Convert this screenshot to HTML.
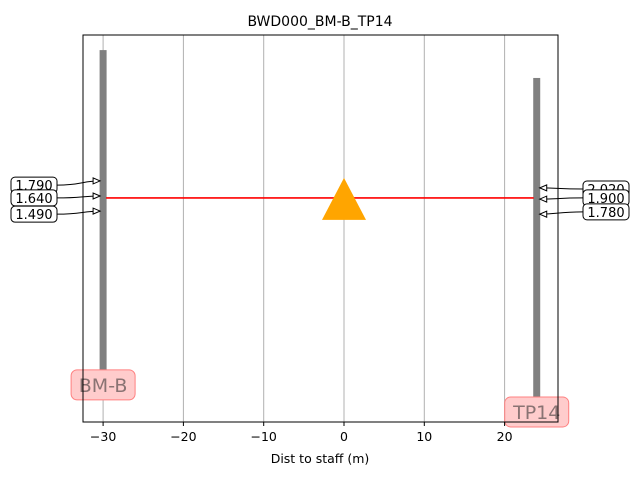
<!DOCTYPE html>
<html><head><meta charset="utf-8"><style>
body{margin:0;background:#fff;}
svg text{font-family:"DejaVu Sans","Liberation Sans",sans-serif;}
</style></head><body>
<svg id="chart" width="640" height="480" xmlns="http://www.w3.org/2000/svg">
<text x="320" y="26" text-anchor="middle" font-size="14">BWD000_BM-B_TP14</text>
<g id="grid"></g>
<g id="marks"></g>
<rect x="83" y="35" width="475" height="387" fill="none" stroke="#000" stroke-width="1"/>
<g id="xticks"></g>
<text x="320" y="463" text-anchor="middle" font-size="12.5">Dist to staff (m)</text>
</svg>
<script>
const xTicks=[-30,-20,-10,0,10,20];
const staffNames=["BM-B","TP14"];
const staffDist=[-30,24];
const staffTop=[96.1,88.9];
const staffBottom=[9.6,2.6];
const lineLevel=57.9;
const instrumentDist=0;
const leftReadings=["1.790","1.640","1.490"];
const rightReadings=["2.020","1.900","1.780"];
const leftReadLevel=[62.3,58.4,54.5];
const rightReadLevel=[60.5,57.6,53.7];
const leftBoxLevel=[61.2,57.9,53.7];
const rightBoxLevel=[60.2,57.9,54.3];

const NS="http://www.w3.org/2000/svg";
const xs=v=>344+v*8.03;
const ys=v=>422-v*3.87;
function mk(tag,attrs,parent){const e=document.createElementNS(NS,tag);for(const k in attrs)e.setAttribute(k,attrs[k]);parent.appendChild(e);return e;}
const grid=document.getElementById('grid'),marks=document.getElementById('marks'),xt=document.getElementById('xticks');
xTicks.forEach(t=>{
  const g=mk('line',{x1:xs(t),x2:xs(t),y1:35,y2:422,stroke:'#b0b0b0','stroke-width':1},grid);
  
  
  const tk=mk('line',{x1:xs(t),x2:xs(t),y1:422,y2:426,stroke:'#000'},xt);
  
  
  const tx=mk('text',{x:xs(t),y:441,'text-anchor':'middle','font-size':12.5},xt);
  tx.textContent=(t<0?'\u2212'+(-t):t);
  
  
});
staffDist.forEach((d,i)=>{
  const r=mk('rect',{x:xs(d)-3.5,y:ys(staffTop[i]),width:7,height:ys(staffBottom[i])-ys(staffTop[i]),fill:'#808080'},marks);
  
  
});
const ln=mk('line',{x1:xs(staffDist[0])+3,x2:xs(staffDist[1])-3,y1:ys(lineLevel),y2:ys(lineLevel),stroke:'#ff0000','stroke-width':1.6},marks);


const cx=xs(instrumentDist),cy=ys(lineLevel);
const tri=mk('polygon',{points:`${cx},${cy-20} ${cx-22},${cy+22} ${cx+22},${cy+22}`,fill:'#ffa500'},marks);


function reading(txt,bx,by,tx,ty,side){
  const g=mk('g',{},marks);
  
  
  const sx=side<0?bx+23:bx-23;
  const midx=side<0?sx+25:sx-25;
  mk('path',{d:`M${sx},${by} C${midx},${by} ${midx},${ty} ${tx},${ty}`,fill:'none',stroke:'#000','stroke-width':1},g);
  const ang=side<0?0:180;
  mk('polygon',{points:`${tx},${ty} ${tx-7},${ty-3} ${tx-7},${ty+3}`,fill:'#fff',stroke:'#000','stroke-width':1,transform:`rotate(${ang} ${tx} ${ty})`},g);
  mk('rect',{x:bx-23,y:by-8,width:46,height:16,rx:4,fill:'#fff',stroke:'#000','stroke-width':1},g);
  const t=mk('text',{x:bx,y:by+5,'text-anchor':'middle','font-size':13},g);
  t.textContent=txt;
}
leftReadings.forEach((r,i)=>reading(r,34,ys(leftBoxLevel[i]),xs(staffDist[0])-3,ys(leftReadLevel[i]),-1));
rightReadings.forEach((r,i)=>reading(r,606,ys(rightBoxLevel[i]),xs(staffDist[1])+3,ys(rightReadLevel[i]),1));
staffNames.forEach((n,i)=>{
  const yy=ys(staffBottom[i]);
  const g=mk('g',{},marks);
  
  
  mk('rect',{x:xs(staffDist[i])-32,y:yy-15,width:64,height:30,rx:6,fill:'#ffcccc',stroke:'#ff8080','stroke-width':1},g);
  const t=mk('text',{x:xs(staffDist[i]),y:yy+7,'text-anchor':'middle','font-size':19,fill:'#8a7373'},g);
  t.textContent=n;
});
</script>
</body></html>
